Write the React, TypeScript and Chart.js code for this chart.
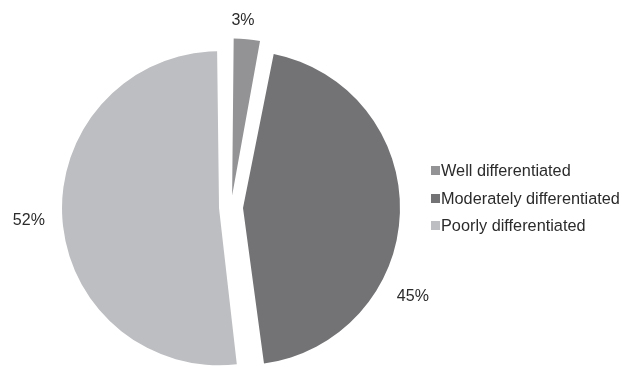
import React, { useEffect, useRef } from "react";
import { Chart, registerables } from "chart.js";

Chart.register(...registerables);

const categories = ["Well differentiated", "Moderately differentiated", "Poorly differentiated"];
const values = [3, 45, 52];
const valueLabels = ["3%", "45%", "52%"];
const colors = ["#939396", "#737376", "#bdbec1"];

// label placement: fraction along the arc, and distance as a multiple of radius
const labelAngleFrac = [0.34, 0.65, 0.5];
const labelDist = [1.19, 1.29, 1.29];

const PIE_RADIUS = 157;
const SLICE_SHIFT = 12; // pixels each slice is pulled out

// Chart.js grows exploded arcs' radius by (offset/4)*fix; keep radii equal instead
const equalRadius = {
  id: "equalRadius",
  beforeDatasetsDraw(chart: any) {
    const meta = chart.getDatasetMeta(0);
    const base = meta.controller.outerRadius;
    meta.data.forEach((arc: any) => {
      const circ = arc.endAngle - arc.startAngle;
      const fix = 1 - Math.sin(Math.min(Math.PI, circ || 0));
      arc.outerRadius = base - SLICE_SHIFT * fix;
    });
  },
};

const outsideLabels = {
  id: "outsideLabels",
  afterDatasetsDraw(chart: any) {
    const ctx = chart.ctx;
    const meta = chart.getDatasetMeta(0);
    const base = meta.controller.outerRadius;
    ctx.save();
    ctx.font = "16px 'Liberation Sans', Arial, sans-serif";
    ctx.fillStyle = "#2b2b2b";
    ctx.textAlign = "center";
    ctx.textBaseline = "middle";
    meta.data.forEach((arc: any, i: number) => {
      const { x, y, startAngle, endAngle } = arc;
      const a = startAngle + (endAngle - startAngle) * labelAngleFrac[i];
      const d = base * labelDist[i];
      ctx.fillText(valueLabels[i], x + Math.cos(a) * d, y + Math.sin(a) * d);
    });
    ctx.restore();
  },
};

export default function App() {
  const ref = useRef<HTMLCanvasElement>(null);
  useEffect(() => {
    document.body.style.margin = "0";
    const chart = new Chart(ref.current!, {
      type: "pie",
      data: {
        labels: categories,
        datasets: [
          {
            data: values,
            backgroundColor: colors,
            borderWidth: 0,
            offset: SLICE_SHIFT * 4,
            radius: PIE_RADIUS,
            clip: false,
          } as any,
        ],
      },
      options: {
        animation: false,
        responsive: false,
        layout: { padding: { left: 0, right: 160, top: 47, bottom: 0 } },
        plugins: {
          legend: { display: false },
          tooltip: { enabled: false },
        },
      },
      plugins: [equalRadius, outsideLabels],
    });
    return () => chart.destroy();
  }, []);

  return (
    <div style={{ position: "relative", width: 622, height: 368 }}>
      <canvas ref={ref} width={622} height={368} style={{ position: "absolute", left: 0, top: 0 }} />
      <div
        style={{
          position: "absolute",
          left: 431,
          top: 157,
          fontFamily: "'Liberation Sans', Arial, sans-serif",
          fontSize: 16.3,
          color: "#2b2b2b",
        }}
      >
        {categories.map((c, i) => (
          <div key={c} style={{ display: "flex", alignItems: "center", height: 27.6 }}>
            <span
              style={{
                display: "inline-block",
                width: 9,
                height: 9,
                background: colors[i],
                marginRight: 1,
              }}
            />
            <span>{c}</span>
          </div>
        ))}
      </div>
    </div>
  );
}
